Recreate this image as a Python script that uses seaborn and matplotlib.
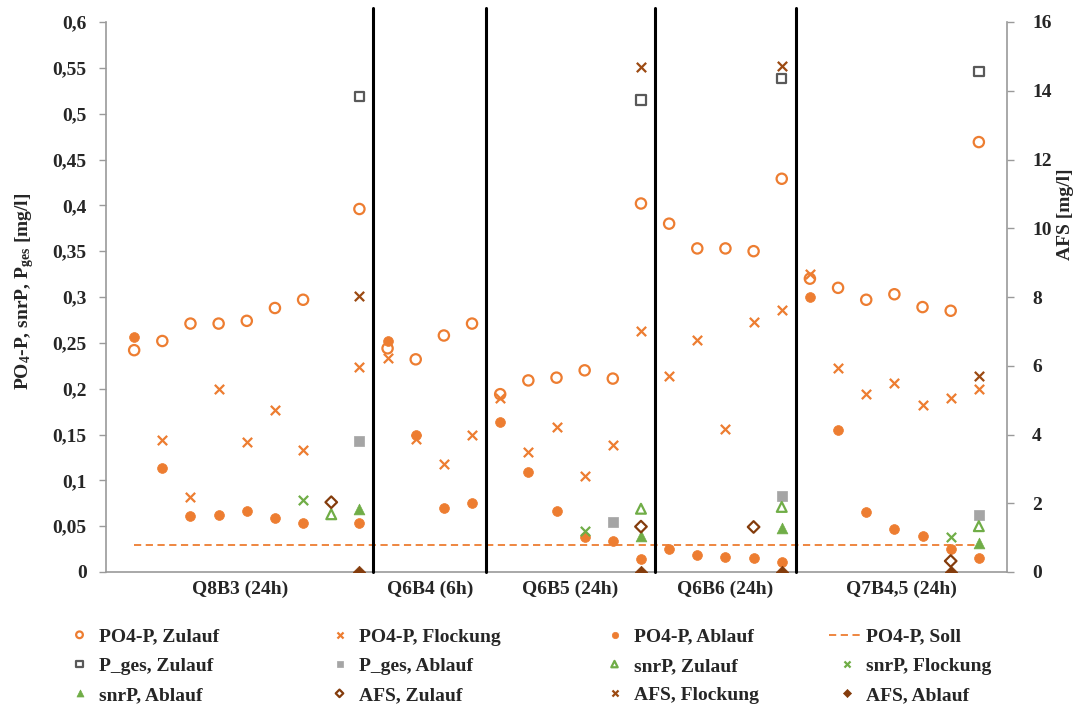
import numpy as np
import matplotlib
matplotlib.use("Agg")
import matplotlib.pyplot as plt
from matplotlib.ticker import FuncFormatter
import seaborn as sns

nan = np.nan

# ---- data -----------------------------------------------------------------
groups = ["Q8B3 (24h)", "Q6B4 (6h)", "Q6B5 (24h)", "Q6B6 (24h)", "Q7B4,5 (24h)"]
group_breaks = [9.5, 13.5, 19.5, 24.5]          # boundaries between campaigns
sample_pos = list(range(1, 32))                  # 31 sampling slots

po4_zulauf = [0.242, 0.252, 0.271, 0.271, 0.274, 0.288, 0.297, nan, 0.396,
              0.244, 0.232, 0.258, 0.271,
              0.194, 0.209, 0.212, 0.220, 0.211, 0.402,
              0.380, 0.353, 0.353, 0.350, 0.429,
              0.320, 0.310, 0.297, 0.303, 0.289, 0.285, 0.469]
po4_flockung = [nan, 0.144, 0.082, 0.200, 0.142, 0.177, 0.133, nan, 0.224,
                0.233, 0.145, 0.118, 0.149,
                0.190, 0.131, 0.158, 0.105, 0.139, 0.263,
                0.214, 0.253, 0.156, 0.273, 0.286,
                0.325, 0.223, 0.194, 0.206, 0.182, 0.190, 0.200]
po4_ablauf = [0.256, 0.113, 0.061, 0.062, 0.067, 0.059, 0.053, nan, 0.053,
              0.252, 0.149, 0.070, 0.075,
              0.164, 0.109, 0.067, 0.038, 0.034, 0.014,
              0.025, 0.019, 0.016, 0.015, 0.011,
              0.300, 0.155, 0.066, 0.047, 0.039, 0.025, 0.015]
po4_soll = [0.03] * 31

pges_zulauf_pos = [9, 19, 24, 31]
pges_zulauf = [0.519, 0.515, 0.538, 0.546]
pges_ablauf_pos = [9, 18, 24, 31]
pges_ablauf = [0.143, 0.055, 0.083, 0.0625]
snrp_zulauf_pos = [8, 19, 24, 31]
snrp_zulauf = [0.063, 0.069, 0.071, 0.050]
snrp_flockung_pos = [7, 17, 30]
snrp_flockung = [0.079, 0.045, 0.038]
snrp_ablauf_pos = [9, 19, 24, 31]
snrp_ablauf = [0.069, 0.039, 0.048, 0.032]

afs_zulauf_pos = [8, 19, 23, 30]
afs_zulauf = [2.03, 1.32, 1.31, 0.32]
afs_flockung_pos = [9, 19, 24, 31]
afs_flockung = [8.02, 14.70, 14.73, 5.71]
afs_ablauf_pos = [9, 19, 24, 30]
afs_ablauf = [0.0, 0.0, 0.0, 0.0]

# ---- style ----------------------------------------------------------------
ORANGE = "#ED7D31"
DGRAY = "#595959"
LGRAY = "#A5A5A5"
GREEN = "#70AD47"
BROWN = "#843C0C"
BROWN_X = "#9C4A12"
AXIS = "#9A9A9A"

sns.set_style("white")
plt.rcParams["font.family"] = ["Liberation Serif", "DejaVu Serif"]
plt.rcParams["font.weight"] = "bold"
plt.rcParams["axes.labelweight"] = "bold"
plt.rcParams["mathtext.fontset"] = "custom"
plt.rcParams["mathtext.bf"] = "Liberation Serif:bold"
plt.rcParams["mathtext.rm"] = "Liberation Serif:bold"
plt.rcParams["mathtext.default"] = "bf"

fig = plt.figure(figsize=(10.8, 7.08), dpi=100)
ax = fig.add_axes([106 / 1080, 1 - 572 / 708, 901 / 1080, 550 / 708])
ax2 = ax.twinx()


def draw(axis, x, y, label, marker, color, kind, size):
    pts = [(a, b) for a, b in zip(x, y) if not np.isnan(b)]
    xs = [p[0] for p in pts]
    ys = [p[1] for p in pts]
    kws = dict(x=xs, y=ys, ax=axis, marker=marker, s=size, label=label,
               legend=False, zorder=4)
    if kind == "open":
        kws.update(color=color, facecolor="none", edgecolor=color, linewidth=1.6)
    elif kind == "filled":
        kws.update(color=color, edgecolor=color, linewidth=0.5)
    else:  # line-art marker such as "x"
        kws.update(color=color, linewidth=1.6)
    sns.scatterplot(**kws)


draw(ax, sample_pos, po4_zulauf, "PO4-P, Zulauf", "o", ORANGE, "open", 55)
draw(ax, sample_pos, po4_flockung, "PO4-P, Flockung", "x", ORANGE, "x", 45)
draw(ax, sample_pos, po4_ablauf, "PO4-P, Ablauf", "o", ORANGE, "filled", 50)
sns.lineplot(x=sample_pos, y=po4_soll, ax=ax, color=ORANGE, linewidth=1.3,
             dashes=False, label="PO4-P, Soll", legend=False, zorder=3)
ax.lines[-1].set_dashes((4, 2.5))
draw(ax, pges_zulauf_pos, pges_zulauf, "P_ges, Zulauf", "s", DGRAY, "open", 45)
draw(ax, pges_ablauf_pos, pges_ablauf, "P_ges, Ablauf", "s", LGRAY, "filled", 45)
draw(ax, snrp_zulauf_pos, snrp_zulauf, "snrP, Zulauf", "^", GREEN, "open", 50)
draw(ax, snrp_flockung_pos, snrp_flockung, "snrP, Flockung", "x", GREEN, "x", 45)
draw(ax, snrp_ablauf_pos, snrp_ablauf, "snrP, Ablauf", "^", GREEN, "filled", 60)
draw(ax2, afs_zulauf_pos, afs_zulauf, "AFS, Zulauf", "D", BROWN, "open", 35)
draw(ax2, afs_flockung_pos, afs_flockung, "AFS, Flockung", "x", BROWN_X, "x", 45)
draw(ax2, afs_ablauf_pos, afs_ablauf, "AFS, Ablauf", "D", BROWN, "filled", 40)

# campaign separators
for b in group_breaks:
    ax.axvline(b, ymin=0, ymax=1.026, color="black", linewidth=2.2,
               clip_on=False, zorder=5)

# ---- axes -----------------------------------------------------------------
ax.set_xlim(0, 32)
ax.set_ylim(0, 0.6)
ax2.set_ylim(0, 16)

edges = [0] + group_breaks + [32]
centers = [(a + b) / 2 for a, b in zip(edges[:-1], edges[1:])]
ax.set_xticks(centers)
ax.set_xticklabels(groups)
ax.tick_params(axis="x", length=0, pad=6, labelsize=14)

comma = FuncFormatter(lambda v, _: ("%g" % round(v, 2)).replace(".", ","))
ax.set_yticks(np.arange(0, 0.6001, 0.05))
ax.yaxis.set_major_formatter(comma)
ax.tick_params(axis="y", direction="out", length=5, width=1, color=AXIS,
               pad=9, labelsize=14, left=True)
ax2.set_yticks(np.arange(0, 16.01, 2))
ax2.yaxis.set_major_formatter(comma)
ax2.tick_params(axis="y", direction="out", length=5, width=1, color=AXIS,
                pad=13, labelsize=14, right=True)

for a in (ax, ax2):
    a.spines["top"].set_visible(False)
    for s in ("left", "right", "bottom"):
        a.spines[s].set_color(AXIS)
        a.spines[s].set_linewidth(1.2)
ax.spines["right"].set_visible(False)
ax2.spines["left"].set_visible(False)
ax2.spines["bottom"].set_visible(False)

ax.set_ylabel("PO$_{4}$-P, snrP, P$_{ges}$ [mg/l]", fontsize=14)
ax.yaxis.set_label_coords(-0.078, 0.51)
ax2.set_ylabel("AFS [mg/l]", fontsize=14)
ax2.yaxis.set_label_coords(1.056, 0.65)

# ---- legend (four columns, filled row by row) -----------------------------
h1, l1 = ax.get_legend_handles_labels()
h2, l2 = ax2.get_legend_handles_labels()
lookup = dict(zip(l1 + l2, h1 + h2))
rows = [["PO4-P, Zulauf", "PO4-P, Flockung", "PO4-P, Ablauf", "PO4-P, Soll"],
        ["P_ges, Zulauf", "P_ges, Ablauf", "snrP, Zulauf", "snrP, Flockung"],
        ["snrP, Ablauf", "AFS, Zulauf", "AFS, Flockung", "AFS, Ablauf"]]
col_x = [62, 322, 597, 829]
for c, x0 in enumerate(col_x):
    labels = [r[c] for r in rows]
    fig.legend([lookup[k] for k in labels], labels, loc="upper left",
               bbox_to_anchor=(x0 / 1080, 1 - 628 / 708), frameon=False,
               borderpad=0, borderaxespad=0, fontsize=14, handlelength=1.8,
               handletextpad=0.1, labelspacing=0.6, markerscale=0.65,
               scatterpoints=1, scatteryoffsets=[0.5])

fig.savefig("out.png", dpi=100)
